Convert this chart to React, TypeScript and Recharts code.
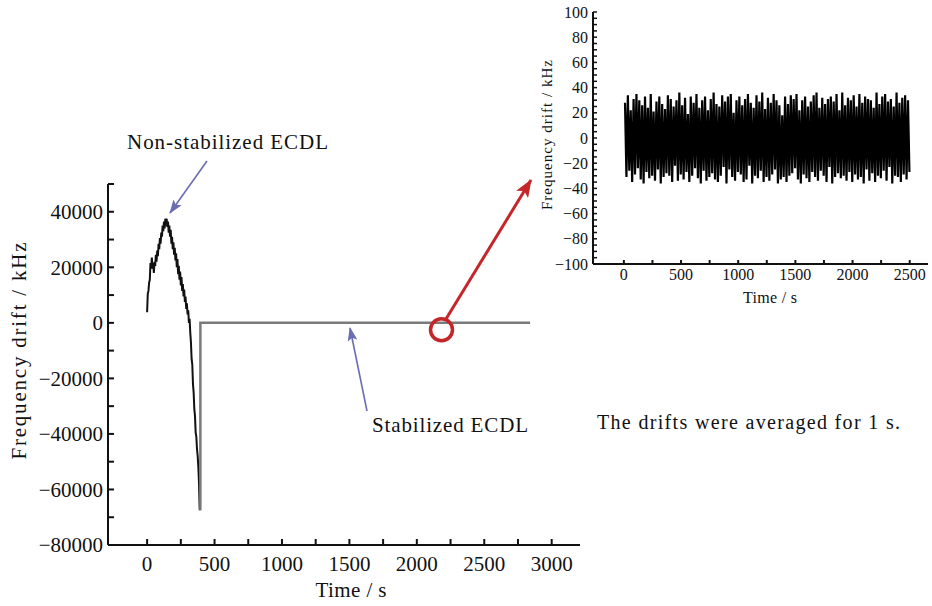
import { Line, LineChart, ReferenceDot, XAxis, YAxis } from "recharts";

// free-running laser (black trace), time in s, drift in kHz
const freeTime = [
  0, 5, 10, 15, 20, 25, 30, 35, 40, 45, 50, 55, 60, 65, 70, 75, 80, 85, 90, 95,
  100, 105, 110, 115, 120, 125, 130, 135, 140, 145, 150, 155, 160, 165, 170, 175,
  180, 185, 190, 195, 200, 205, 210, 215, 220, 225, 230, 235, 240, 245, 250, 255,
  260, 265, 270, 275, 280, 285, 290, 295, 300, 305, 310, 315, 320, 325, 330, 335,
  340, 345, 350, 355, 360, 365, 370, 375, 380, 385, 390,
];
const freeDrift = [
  3800, 10500, 11500, 14500, 15500, 21500, 19500, 23500, 19500, 21500, 18000, 22000,
  20500, 24500, 22000, 26000, 24000, 28500, 26500, 30500, 28500, 32500, 31000, 35000,
  33000, 36500, 34000, 37500, 35000, 37500, 34500, 36500, 32500, 35000, 31000, 33500,
  28500, 31000, 26500, 29000, 24500, 27000, 22500, 25000, 20000, 23000, 17500, 20500,
  15500, 18500, 13500, 16500, 11500, 14000, 9500, 12000, 7500, 9500, 5000, 7000,
  3000, 4500, 0, 1500, -3500, -7000, -13000, -15000, -22000, -25000, -31000, -33500,
  -39500, -41000, -45500, -48000, -52000, -58000, -67500,
];

// locked laser (grey trace)
const lockedTime = [395, 395, 2840];
const lockedDrift = [-67500, 0, 0];

const mainXTicks = [0, 250, 500, 750, 1000, 1250, 1500, 1750, 2000, 2250, 2500, 2750, 3000];
const mainYTicks = [
  -80000, -70000, -60000, -50000, -40000, -30000, -20000, -10000, 0, 10000, 20000, 30000,
  40000, 50000,
];

// inset: locked drift averaged over 1 s
const insetStart = 10;
const insetStep = 12.5;
const insetDrift = [
  28, -31, 34, -26, 22, -35, 31, -29, 35, -24,
  30, -33, 26, -36, 33, -27, 24, -32, 35, -30,
  21, -34, 29, -25, 33, -36, 27, -31, 23, -28,
  34, -30, 31, -35, 25, -22, 30, -34, 36, -29,
  26, -33, 32, -27, 19, -35, 33, -30, 28, -24,
  35, -32, 24, -36, 30, -26, 33, -34, 22, -31,
  31, -28, 36, -33, 27, -35, 25, -30, 34, -23,
  29, -36, 33, -25, 35, -31, 20, -34, 30, -27,
  33, -29, 26, -35, 31, -33, 35, -22, 28, -36,
  24, -30, 34, -32, 29, -26, 36, -35, 23, -31,
  32, -34, 28, -29, 35, -25, 30, -36, 26, -33,
  18, -31, 33, -35, 27, -30, 34, -28, 31, -24,
  35, -33, 22, -36, 30, -29, 33, -32, 25, -35,
  29, -27, 34, -31, 36, -34, 24, -26, 32, -30,
  27, -35, 31, -23, 33, -36, 29, -31, 35, -28,
  22, -32, 36, -30, 26, -34, 32, -27, 30, -35,
  34, -29, 25, -33, 35, -31, 28, -36, 33, -25,
  31, -34, 30, -28, 24, -35, 36, -30, 27, -32,
  33, -26, 35, -34, 29, -23, 31, -36, 25, -30,
  36, -31, 28, -35, 32, -29, 34, -33, 30, -27,
];
const insetXTicks = [0, 250, 500, 750, 1000, 1250, 1500, 1750, 2000, 2250, 2500];
const insetYTicks = [
  -100, -95, -90, -85, -80, -75, -70, -65, -60, -55, -50, -45, -40, -35, -30, -25, -20,
  -15, -10, -5, 0, 5, 10, 15, 20, 25, 30, 35, 40, 45, 50, 55, 60, 65, 70, 75, 80, 85, 90,
  95, 100,
];

const FONT = "'Liberation Serif', 'DejaVu Serif', serif";
const INK = "#111";
const BLUE = "#6c6cb4";
const RED = "#c4262a";

const fmt = (v: number) => (v < 0 ? "\u2212" + Math.abs(v) : String(v));

const freeRows = freeTime.map((t, i) => ({ t, v: freeDrift[i] }));
const lockedRows = lockedTime.map((t, i) => ({ t, v: lockedDrift[i] }));
const insetRows = insetDrift.map((v, i) => ({ t: insetStart + i * insetStep, v }));

const axisStyle = { stroke: INK, strokeWidth: 2 };

export default function App() {
  return (
    <div
      style={{
        position: "absolute",
        left: 0,
        top: 0,
        width: 932,
        height: 606,
        background: "#fff",
        fontFamily: FONT,
      }}
    >
      <div style={{ position: "absolute", left: 0, top: 0 }}>
        <LineChart width={600} height={606} margin={{ top: 184, right: 20, bottom: 6, left: 48 }}>
          <XAxis
            dataKey="t"
            type="number"
            domain={[-290, 3210]}
            allowDataOverflow
            ticks={mainXTicks}
            interval={0}
            tickFormatter={(v: number) => (v % 500 === 0 ? fmt(v) : "")}
            height={55}
            axisLine={axisStyle}
            tickLine={axisStyle}
            tickSize={-6}
            tickMargin={17}
            tick={{ fontSize: 21, fill: INK, fontFamily: FONT }}
          />
          <YAxis
            dataKey="v"
            type="number"
            domain={[-80000, 50000]}
            allowDataOverflow
            ticks={mainYTicks}
            interval={0}
            tickFormatter={(v: number) => (v % 20000 === 0 ? fmt(v) : "")}
            width={60}
            axisLine={axisStyle}
            tickLine={axisStyle}
            tickSize={-6}
            tickMargin={11}
            tick={{ fontSize: 21, fill: INK, fontFamily: FONT }}
          />
          <Line
            data={freeRows}
            dataKey="v"
            type="linear"
            stroke="#111"
            strokeWidth={2}
            dot={false}
            isAnimationActive={false}
          />
          <Line
            data={lockedRows}
            dataKey="v"
            type="linear"
            stroke="#7a7a7a"
            strokeWidth={2.5}
            dot={false}
            isAnimationActive={false}
          />
          <ReferenceDot
            x={2183}
            y={-2500}
            r={11}
            fill="none"
            stroke={RED}
            strokeWidth={3.5}
            ifOverflow="visible"
          />
        </LineChart>
      </div>

      <div style={{ position: "absolute", left: 530, top: 0 }}>
        <LineChart width={402} height={310} margin={{ top: 12, right: 4, bottom: 10, left: 3 }}>
          <XAxis
            dataKey="t"
            type="number"
            domain={[-270, 2660]}
            allowDataOverflow
            ticks={insetXTicks}
            interval={0}
            tickFormatter={(v: number) => (v % 500 === 0 ? fmt(v) : "")}
            height={36}
            axisLine={axisStyle}
            tickLine={axisStyle}
            tickSize={-4}
            tickMargin={9}
            tick={{ fontSize: 16, fill: INK, fontFamily: FONT }}
          />
          <YAxis
            dataKey="v"
            type="number"
            domain={[-100, 100]}
            allowDataOverflow
            ticks={insetYTicks}
            interval={0}
            tickFormatter={(v: number) => (v % 20 === 0 ? fmt(v) : "")}
            width={60}
            axisLine={axisStyle}
            tickLine={{ stroke: INK, strokeWidth: 1.5 }}
            tickSize={-4}
            tickMargin={9}
            tick={{ fontSize: 16, fill: INK, fontFamily: FONT }}
          />
          <Line
            data={insetRows}
            dataKey="v"
            type="linear"
            stroke="#000"
            strokeWidth={2.2}
            dot={false}
            isAnimationActive={false}
          />
        </LineChart>
      </div>

      <svg
        width={932}
        height={606}
        style={{ position: "absolute", left: 0, top: 0, pointerEvents: "none" }}
        fontFamily={FONT}
      >
        <defs>
          <marker id="headBlue" markerUnits="userSpaceOnUse" markerWidth={14} markerHeight={10} refX={13} refY={5} orient="auto">
            <path d="M0,0 L14,5 L0,10 L3,5 Z" fill={BLUE} />
          </marker>
          <marker id="headRed" markerUnits="userSpaceOnUse" markerWidth={18} markerHeight={14} refX={17} refY={7} orient="auto">
            <path d="M0,0 L18,7 L0,14 L4,7 Z" fill={RED} />
          </marker>
        </defs>

        {/* axis titles */}
        <text x={351} y={597} fontSize={21} fill={INK} textAnchor="middle" textLength={71}>Time / s</text>
        <text
          x={26}
          y={351}
          fontSize={21}
          fill={INK}
          textAnchor="middle"
          textLength={217}
          transform="rotate(-90 26 351)"
        >
          Frequency drift / kHz
        </text>
        <text x={770} y={303} fontSize={16} fill={INK} textAnchor="middle" textLength={54}>Time / s</text>
        <text
          x={552}
          y={135}
          fontSize={15}
          fill={INK}
          textAnchor="middle"
          textLength={150}
          transform="rotate(-90 552 135)"
        >
          Frequency drift / kHz
        </text>

        {/* annotations */}
        <text x={127} y={149} fontSize={21} fill={INK} textLength={201}>Non-stabilized ECDL</text>
        <line x1={207} y1={161} x2={170} y2={213} stroke={BLUE} strokeWidth={1.6} markerEnd="url(#headBlue)" />
        <text x={372} y={432} fontSize={21} fill={INK} textLength={156}>Stabilized ECDL</text>
        <line x1={367} y1={411} x2={350} y2={328} stroke={BLUE} strokeWidth={1.6} markerEnd="url(#headBlue)" />
        <line x1={446} y1={319} x2={531} y2={180} stroke={RED} strokeWidth={3} markerEnd="url(#headRed)" />
        <text x={597} y={429} fontSize={20} fill={INK} textLength={303}>The drifts were averaged for 1 s.</text>
      </svg>
    </div>
  );
}
